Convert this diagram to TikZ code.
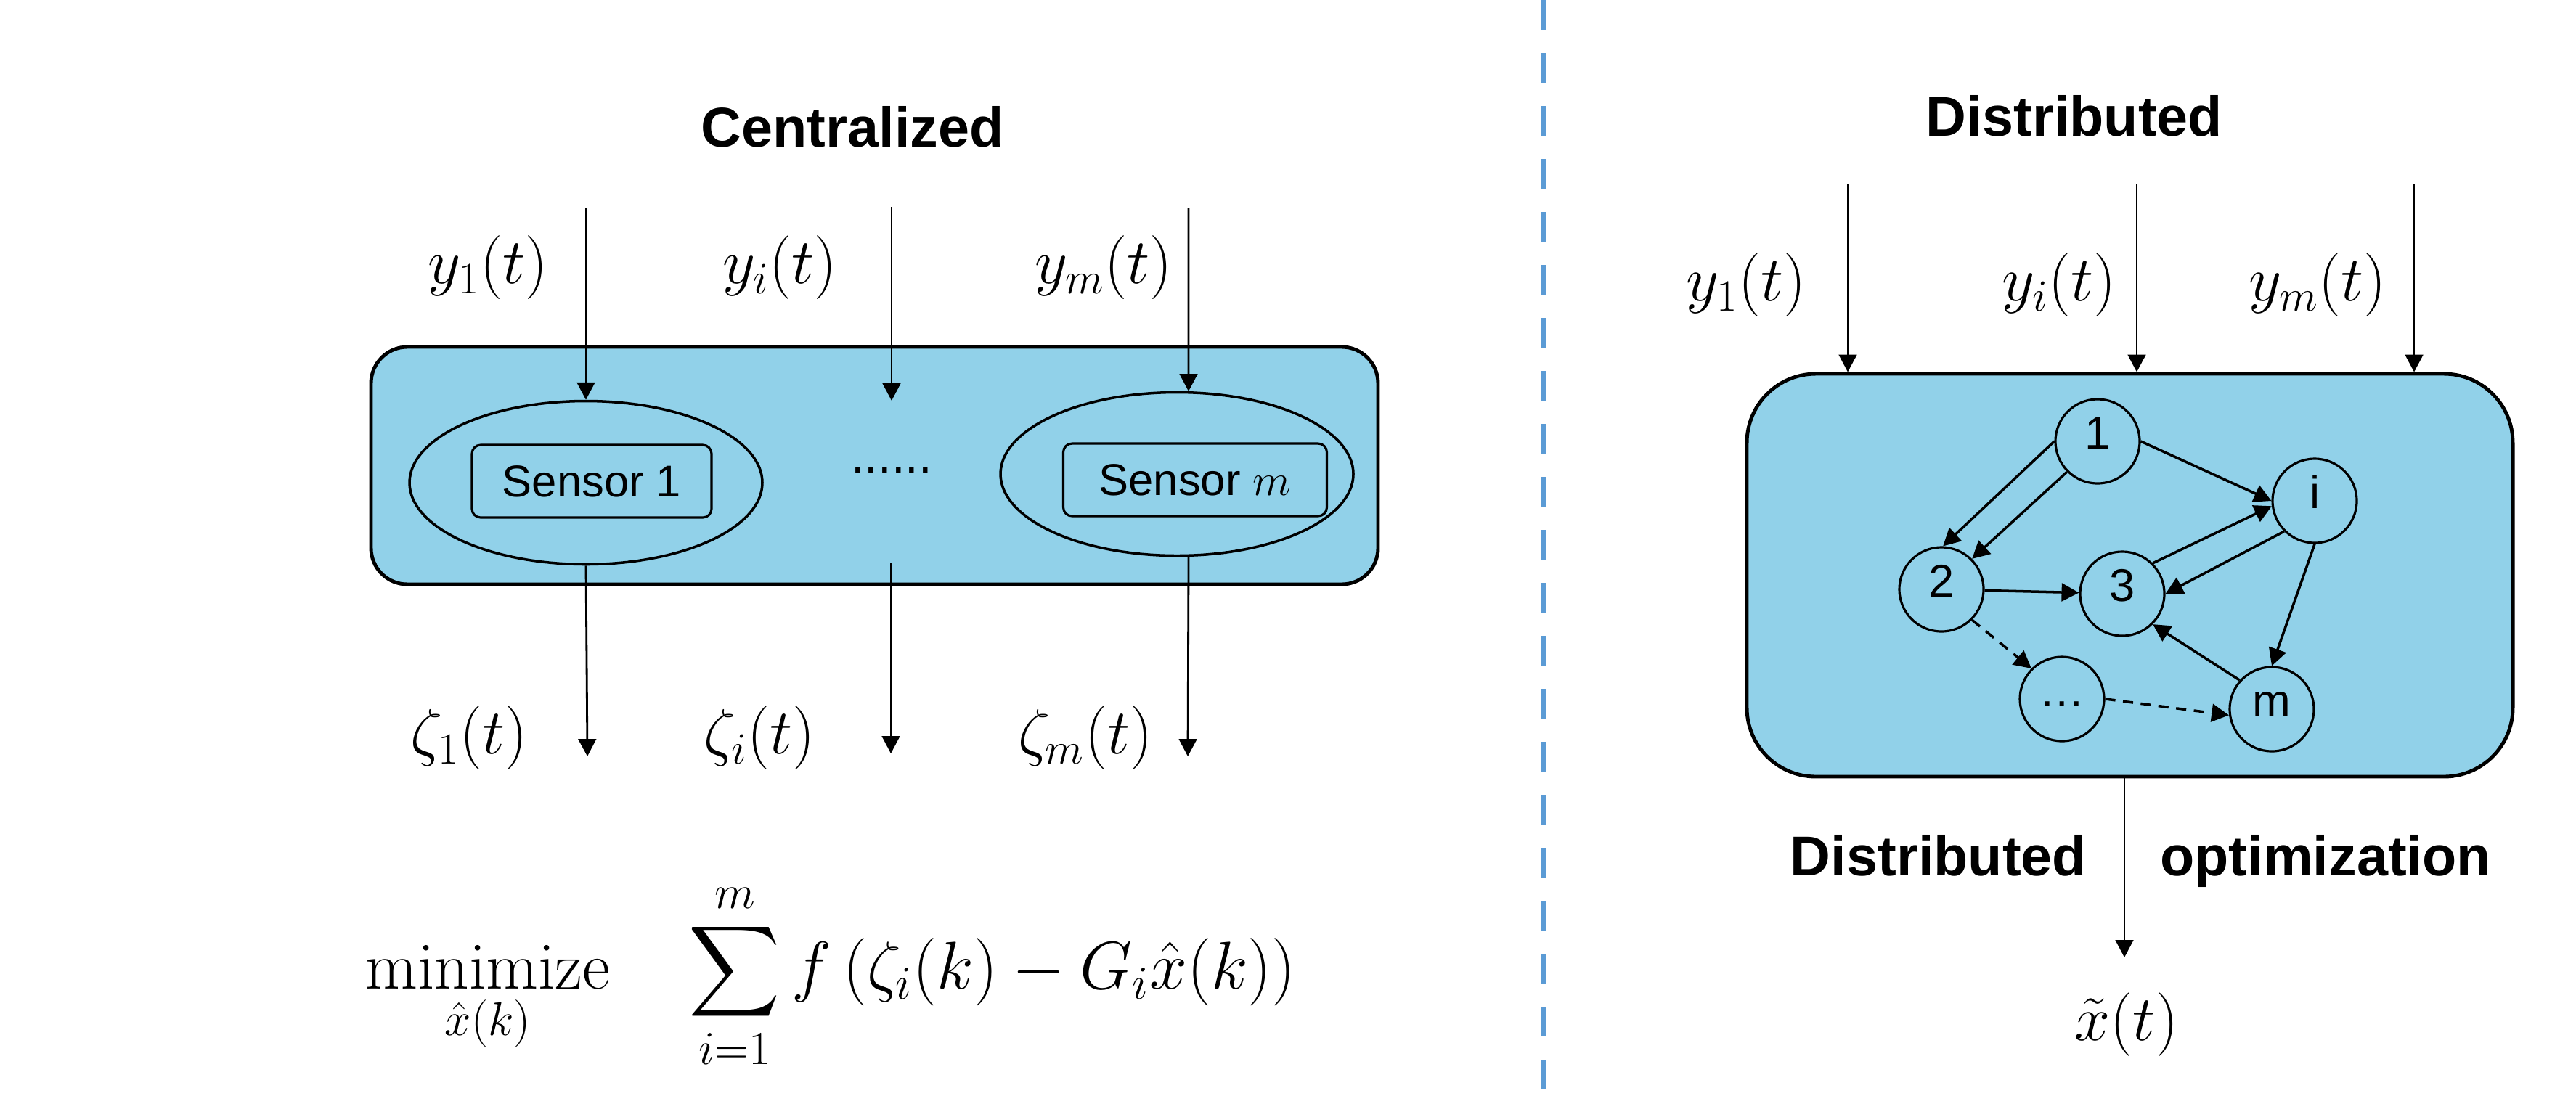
\RequirePackage{fix-cm}
\documentclass[tikz,border=0pt]{standalone}
\usepackage{amsmath}
\usepackage{fontspec}
\newfontfamily\sansfont{Liberation Sans}
\usetikzlibrary{calc}
\usetikzlibrary{positioning}
\usetikzlibrary{shapes.geometric}
\usetikzlibrary{arrows.meta}
\definecolor{boxblue}{RGB}{145,209,233}
\definecolor{sepblue}{RGB}{91,155,213}
\tikzstyle{bigbox} = [draw, fill=boxblue, line width=1.4pt, inner sep=0]
\tikzstyle{sensorell} = [draw, ellipse, line width=1pt, minimum width=4.86cm, minimum height=2.25cm, inner sep=0]
\tikzstyle{sensorbox} = [draw, rounded corners=0.12cm, line width=0.9pt, minimum height=1cm, inner sep=0, font=\sansfont\fontsize{17.5}{21}\selectfont]
\tikzstyle{agent} = [draw, circle, line width=0.9pt, minimum size=1.16cm, inner sep=0, text height=1.4ex, text depth=0ex, font=\sansfont\fontsize{18}{22}\selectfont]
\tikzstyle{heading} = [font=\sansfont\bfseries\fontsize{22}{26}\selectfont]
\tikzstyle{sig} = [font=\fontsize{25}{30}\selectfont]
\tikzstyle{flow} = [-{Triangle[length=6.8pt,width=7pt]}, line width=0.8pt]
\tikzstyle{link} = [-{Triangle[length=6.8pt,width=7pt]}, line width=1pt]

\begin{document}
\begin{tikzpicture}[y=-1cm]
    \useasboundingbox (0,0) rectangle (35.48,15.20);
    \draw[sepblue, line width=2.5pt, dash pattern=on 0.41cm off 0.32cm] (21.26,0) -- (21.26,15.20);

    \node[heading] (cen) at (11.74,1.75) {Centralized};
    \node[bigbox, rounded corners=0.5cm, minimum width=13.87cm, minimum height=3.27cm] (pool) at (12.045,6.415) {};
    \node[sensorell] (e1) at (8.07,6.65) {};
    \node[sensorell] (em) at (16.21,6.53) {};
    \node[sensorbox, minimum width=3.30cm] (s1) at ($(e1)+(0.08,-0.02)$) {Sensor 1};
    \node[sensorbox, minimum width=3.63cm] (sm) at ($(em)+(0.25,0.08)$) {Sensor $m$};
    \node[font=\sansfont\fontsize{19}{22}\selectfont] (gap) at (12.28,6.48) {......};

    \coordinate (ya) at (8.07,2.87);
    \coordinate (yb) at (12.28,2.85);
    \coordinate (ybend) at (12.28,5.52);
    \coordinate (yc) at (16.37,2.87);
    \draw[flow] (ya) -- (e1.north);
    \draw[flow] (yb) -- (ybend);
    \draw[flow] (yc) -- (em.82);
    \node[sig] (y1) at (6.72,3.69) {$y_1(t)$};
    \node[sig] (yi) at (10.74,3.69) {$y_i(t)$};
    \node[sig] (ym) at (15.20,3.69) {$y_m(t)$};

    \coordinate (za) at (8.09,10.42);
    \coordinate (zbstart) at (12.27,7.75);
    \coordinate (zb) at (12.27,10.38);
    \coordinate (zc) at (16.36,10.42);
    \draw[flow] (e1.south) -- (za);
    \draw[flow] (zbstart) -- (zb);
    \draw[flow] (em.-82) -- (zc);
    \node[sig] (z1) at (6.46,10.17) {$\zeta_1(t)$};
    \node[sig] (zi) at (10.46,10.17) {$\zeta_i(t)$};
    \node[sig] (zm) at (14.95,10.17) {$\zeta_m(t)$};

    \node[anchor=base, font=\fontsize{26.5}{32}\selectfont] (cost) at (11.44,13.62)
        {$\displaystyle \underset{\hat{x}(k)}{\mathrm{minimize}}\quad \sum_{i=1}^{m} f\left(\zeta_i(k)-G_i\hat{x}(k)\right)$};

    \node[heading] (dis) at (28.57,1.60) {Distributed};
    \node[bigbox, rounded corners=0.95cm, minimum width=10.55cm, minimum height=5.55cm] (net) at (29.335,7.925) {};
    \node[agent] (n1) at (28.89,6.08) {1};
    \node[agent] (ni) at ($(n1)+(2.99,0.82)$) {i};
    \node[agent] (n2) at ($(n1)+(-2.15,2.04)$) {2};
    \node[agent] (n3) at ($(n1)+(0.34,2.10)$) {3};
    \node[agent] (nd) at ($(n1)+(-0.49,3.55)$) {…};
    \node[agent] (nm) at ($(n1)+(2.40,3.69)$) {m};
    \draw[link] (n1.180) -- (n2.88);
    \draw[link] (n1.225) -- (n2.45);
    \draw[link] (n1.0) -- (ni.180);
    \draw[link] (n3.45) -- (ni.187);
    \draw[link] (ni.225) -- (n3.0);
    \draw[link] (ni.270) -- (nm.90);
    \draw[link] (nm.138) -- (n3.315);
    \draw[link] (n2) -- (n3);
    \draw[link, dash pattern=on 4pt off 3pt] (n2.315) -- (nd.135);
    \draw[link, dash pattern=on 4pt off 3pt] (nd.0) -- (nm.188);

    \coordinate (ra) at (25.45,2.54);
    \coordinate (rb) at (29.43,2.54);
    \coordinate (rc) at (33.25,2.54);
    \draw[flow] (ra) -- (ra |- net.north);
    \draw[flow] (rb) -- (rb |- net.north);
    \draw[flow] (rc) -- (rc |- net.north);
    \node[sig] (r1) at (24.05,3.93) {$y_1(t)$};
    \node[sig] (ri) at (28.36,3.93) {$y_i(t)$};
    \node[sig] (rm) at (31.92,3.93) {$y_m(t)$};

    \coordinate (xo) at (29.26,13.19);
    \draw[flow] (xo |- net.south) -- (xo);
    \node[heading, anchor=base] (dlab) at (26.70,12.06) {Distributed};
    \node[heading, anchor=base] (olab) at (32.03,12.06) {optimization};
    \node[sig] (xt) at (29.29,14.12) {$\tilde{x}(t)$};
\end{tikzpicture}
\end{document}
